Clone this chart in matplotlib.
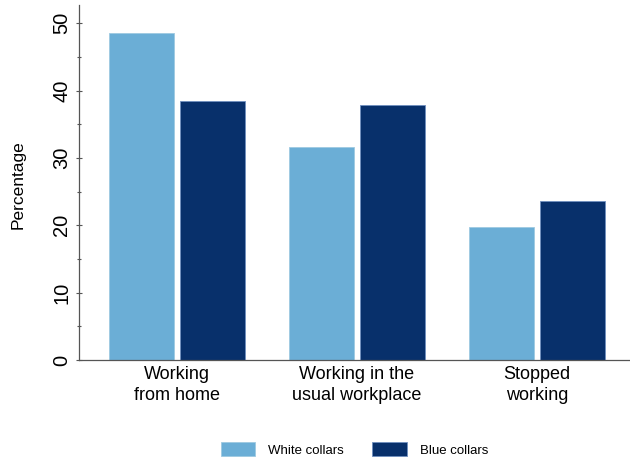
"""
Share of workers by work arrangement: white collars vs blue collars.
Grouped bar chart, Stata-like look.
"""
import matplotlib
matplotlib.use("Agg")
import matplotlib.pyplot as plt
import numpy as np
from matplotlib.ticker import MultipleLocator

plt.rcParams['font.family'] = ['Liberation Sans', 'DejaVu Sans']

# ---- data ----
CATEGORIES = ["Working\nfrom home", "Working in the\nusual workplace", "Stopped\nworking"]
SERIES = ["White collars", "Blue collars"]
WHITE = [48.5, 31.6, 19.8]
BLUE = [38.5, 37.8, 23.6]

COLORS = ["#6baed6", "#08306b"]
EDGES = ["#9ecae1", "#6f8fbf"]

BAR_W = 0.36
GAP = 0.035

fig = plt.figure(figsize=(6.3, 4.61), dpi=100)
ax = fig.add_axes([79 / 630, 101 / 461, 551 / 630, 355 / 461])

x = np.arange(len(CATEGORIES))
off = BAR_W / 2 + GAP / 2
ax.bar(x - off, WHITE, width=BAR_W, color=COLORS[0], edgecolor=EDGES[0],
       linewidth=0.6, label=SERIES[0])
ax.bar(x + off, BLUE, width=BAR_W, color=COLORS[1], edgecolor=EDGES[1],
       linewidth=0.6, label=SERIES[1])

ax.set_xlim(-0.544, 2.517)
ax.set_ylim(0, 52.7)

# spines
for s in ["top", "right"]:
    ax.spines[s].set_visible(False)
for s in ["left", "bottom"]:
    ax.spines[s].set_color("#555555")
    ax.spines[s].set_linewidth(0.9)

ax.yaxis.set_major_locator(MultipleLocator(10))
ax.yaxis.set_minor_locator(MultipleLocator(5))
ax.tick_params(axis='y', which='major', direction='inout', length=4.5, width=0.8,
               color="#555555", labelsize=14.5, pad=3.5)
ax.tick_params(axis='y', which='minor', direction='inout', length=2.5, width=0.8,
               color="#555555")
for lab in ax.get_yticklabels():
    lab.set_rotation(90)
    lab.set_va('center')

ax.set_xticks(x)
ax.set_xticklabels(CATEGORIES, fontsize=13, linespacing=1.25)
ax.tick_params(axis='x', length=0, pad=4.5)

ax.set_ylabel("Percentage", fontsize=12.5)
ax.yaxis.set_label_coords(-0.097, 0.493)

leg = ax.legend(loc='center', bbox_to_anchor=(0.50, -0.252), ncol=2, frameon=False,
                fontsize=9.5, handlelength=2.6, handleheight=1.25,
                columnspacing=2.15, handletextpad=1.0)

fig.savefig("out.png", dpi=100)
